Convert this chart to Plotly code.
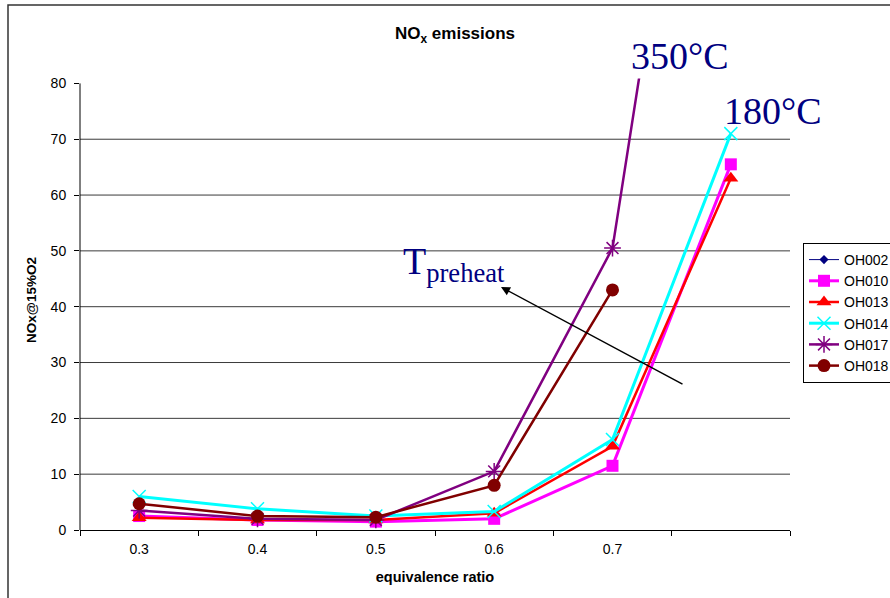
import plotly.graph_objects as go

categories = ["0.3", "0.4", "0.5", "0.6", "0.7", ""]
oh002 = [2.5, 1.8, 1.8, None, None, None]
oh010 = [2.5, 1.8, 1.5, 2.0, 11.5, 65.5]
oh013 = [2.2, 1.8, 1.8, 3.0, 15.0, 63.0]
oh014 = [6.0, 3.8, 2.5, 3.3, 16.2, 71.0]
oh017 = [3.5, 2.0, 1.8, 10.5, 50.5, 186.0]
oh018 = [4.7, 2.5, 2.3, 8.0, 43.0, None]
y_ticks = [0, 10, 20, 30, 40, 50, 60, 70, 80]
grid_vals = [10, 20, 30, 40, 50, 60, 70]

xs = list(range(len(categories)))

series = [
    ("OH002", oh002, "#000080", 1, "diamond", 7, None),
    ("OH010", oh010, "#FF00FF", 3, "square", 12, None),
    ("OH013", oh013, "#FF0000", 2.5, "triangle-up", 13, None),
    ("OH014", oh014, "#00FFFF", 3, "x-thin-open", 13, "#00FFFF"),
    ("OH017", oh017, "#800080", 2.5, "asterisk-open", 14, "#800080"),
    ("OH018", oh018, "#800000", 2.5, "circle", 13, None),
]

fig = go.Figure()
for name, vals, color, lw, sym, ms, mline in series:
    marker = dict(symbol=sym, size=ms, color=color)
    if mline:
        marker["line"] = dict(color=mline, width=1.5)
    fig.add_trace(go.Scatter(
        x=xs, y=vals, name=name, mode="lines+markers",
        line=dict(color=color, width=lw), marker=marker,
        connectgaps=False, cliponaxis=True,
    ))

shapes = []
for g in grid_vals:
    shapes.append(dict(type="line", xref="paper", yref="y", x0=0, x1=1, y0=g, y1=g,
                       line=dict(color="#3a3a3a", width=1), layer="below"))
# y axis line (0..80)
shapes.append(dict(type="line", xref="paper", yref="y", x0=0, x1=0, y0=0, y1=80,
                   line=dict(color="black", width=1)))
# outer chart border
shapes.append(dict(type="rect", xref="paper", yref="paper",
                   x0=(8 - 80) / 710, x1=1.3, y0=-0.3, y1=(530 - 5) / 460,
                   line=dict(color="#333333", width=1.5), layer="below"))

annotations = [
    dict(text="350°C", xref="paper", yref="paper", x=(680 - 80) / 710, y=(530 - 56) / 460,
         showarrow=False, font=dict(family="Liberation Serif", size=38, color="#000080"),
         bgcolor="white", xanchor="center", yanchor="middle"),
    dict(text="180°C", xref="paper", yref="paper", x=(773 - 80) / 710, y=(530 - 111) / 460,
         showarrow=False, font=dict(family="Liberation Serif", size=38, color="#000080"),
         xanchor="center", yanchor="middle"),
    dict(text="T<sub>preheat</sub>", xref="paper", yref="paper", x=(401 - 80) / 710,
         y=(530 - 264) / 460, showarrow=False,
         font=dict(family="Liberation Serif", size=38, color="#000080"),
         xanchor="left", yanchor="middle"),
    dict(text="", xref="paper", yref="paper", x=(501 - 80) / 710, y=(530 - 287) / 460,
         ax=183, ay=98, showarrow=True, arrowhead=2, arrowsize=1.2, arrowwidth=1.5,
         arrowcolor="black"),
]

fig.update_layout(
    width=890, height=598,
    margin=dict(l=80, r=100, t=70, b=68, autoexpand=False),
    paper_bgcolor="white", plot_bgcolor="white",
    font=dict(family="Liberation Sans", size=14, color="black"),
    title=dict(text="<b>NO<sub>x</sub> emissions</b>", x=455 / 890, y=1 - 33 / 598,
               xref="container", xanchor="center", yanchor="middle",
               font=dict(family="Liberation Sans", size=17, color="black")),
    xaxis=dict(range=[-0.5, 5.5], tickvals=xs, ticktext=categories, ticks="",
               showgrid=False, zeroline=False, showline=True, linecolor="black", linewidth=1,
               tickfont=dict(size=14), ticklabelstandoff=6,
               minor=dict(tick0=-0.5, dtick=1, ticks="outside", ticklen=5,
                          tickcolor="black", showgrid=False),
               title=dict(text="<b>equivalence ratio</b>", font=dict(size=14.5), standoff=16)),
    yaxis=dict(range=[0, 82.4], tickvals=y_ticks, ticks="outside", ticklen=5,
               tickcolor="black", showgrid=False, zeroline=False, showline=False,
               tickfont=dict(size=14), ticklabelstandoff=5,
               title=dict(text="<b>NOx@15%O2</b>", font=dict(size=13.5), standoff=10)),
    legend=dict(x=(803 - 80) / 710, y=(530 - 243) / 460, xanchor="left", yanchor="top",
                bordercolor="black", borderwidth=1, bgcolor="white",
                font=dict(size=14), tracegroupgap=0, itemwidth=30),
    shapes=shapes,
    annotations=annotations,
)

fig.write_html("out.html", config={"displayModeBar": False},
               post_script="document.body.style.margin='0';")
